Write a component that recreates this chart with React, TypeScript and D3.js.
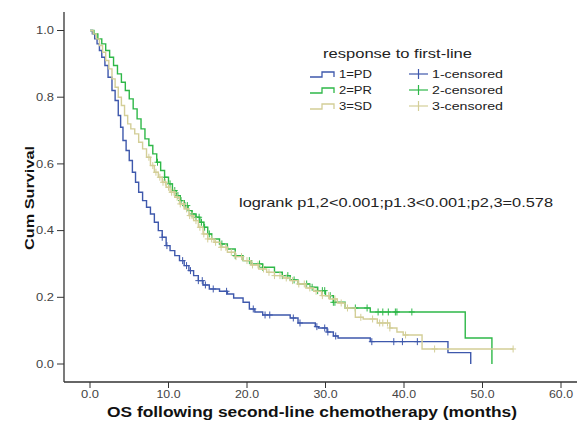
import React from "react";
import * as d3 from "d3";

// ---- data ----
const groups = ["1=PD", "2=PR", "3=SD"];
const censorLabels = ["1-censored", "2-censored", "3-censored"];
const colors = ["#3e58ac", "#2eb848", "#d3ce97"];

const xTicks = [0, 10, 20, 30, 40, 50, 60];
const yTicks = [0, 0.2, 0.4, 0.6, 0.8, 1.0];

// step points [time, survival]
const pdSteps: [number, number][] = [
  [0, 1.0], [0.3, 0.99], [0.6, 0.975], [0.9, 0.96], [1.2, 0.94], [1.5, 0.92], [1.9, 0.895],
  [2.3, 0.86], [2.8, 0.82], [3.2, 0.79], [3.6, 0.745], [3.9, 0.71], [4.2, 0.67], [4.6, 0.64],
  [5.0, 0.61], [5.4, 0.575], [5.8, 0.545], [6.2, 0.515], [6.7, 0.49], [7.2, 0.47], [7.7, 0.45],
  [8.2, 0.425], [8.7, 0.4], [9.2, 0.38], [9.7, 0.355], [10.2, 0.34], [10.8, 0.325], [11.4, 0.31],
  [12.0, 0.295], [12.6, 0.28], [13.2, 0.265], [13.8, 0.25], [14.4, 0.237], [15.2, 0.225],
  [16.5, 0.218], [17.5, 0.21], [18.3, 0.198], [19.5, 0.185], [20.3, 0.165], [21.0, 0.156],
  [22.0, 0.147], [25.5, 0.138], [26.5, 0.123], [28.7, 0.112], [29.1, 0.108], [30.2, 0.096],
  [31.0, 0.084], [31.6, 0.078], [35.7, 0.067], [45.6, 0.034], [48.5, 0.0],
];
const prSteps: [number, number][] = [
  [0, 1.0], [0.5, 0.99], [1.0, 0.975], [1.5, 0.96], [2.0, 0.94], [2.5, 0.92], [3.0, 0.895],
  [3.5, 0.87], [4.0, 0.845], [4.5, 0.82], [5.0, 0.795], [5.5, 0.765], [6.0, 0.735], [6.5, 0.705],
  [7.0, 0.675], [7.5, 0.655], [8.0, 0.63], [8.5, 0.605], [9.0, 0.58], [9.5, 0.56], [10.0, 0.54],
  [10.5, 0.52], [11.0, 0.505], [11.5, 0.49], [12.0, 0.475], [12.5, 0.46], [13.0, 0.45],
  [13.5, 0.44], [14.0, 0.425], [14.5, 0.41], [15.0, 0.39], [15.5, 0.375], [16.5, 0.36],
  [17.5, 0.345], [18.5, 0.325], [19.5, 0.31], [20.5, 0.3], [22.0, 0.29], [23.5, 0.275],
  [24.5, 0.265], [25.5, 0.252], [26.5, 0.24], [28.0, 0.23], [29.0, 0.22], [30.0, 0.205],
  [31.0, 0.185], [32.5, 0.168], [35.7, 0.156], [47.8, 0.078], [51.2, 0.0],
];
const sdSteps: [number, number][] = [
  [0, 1.0], [0.4, 0.99], [0.8, 0.975], [1.2, 0.955], [1.6, 0.935], [2.0, 0.91], [2.4, 0.885],
  [2.8, 0.855], [3.2, 0.83], [3.6, 0.8], [4.0, 0.775], [4.4, 0.745], [4.8, 0.72], [5.2, 0.705],
  [5.7, 0.69], [6.2, 0.665], [6.7, 0.645], [7.2, 0.62], [7.7, 0.595], [8.2, 0.575], [8.7, 0.56],
  [9.2, 0.545], [9.7, 0.53], [10.2, 0.515], [10.8, 0.5], [11.4, 0.48], [12.0, 0.465],
  [12.6, 0.445], [13.2, 0.43], [13.8, 0.41], [14.4, 0.39], [15.0, 0.375], [15.8, 0.365],
  [16.6, 0.35], [17.5, 0.335], [18.5, 0.322], [19.5, 0.31], [20.5, 0.297], [21.5, 0.285],
  [22.5, 0.275], [23.5, 0.265], [24.6, 0.258], [25.5, 0.25], [26.5, 0.24], [27.5, 0.228],
  [28.5, 0.218], [29.5, 0.205], [30.5, 0.195], [31.5, 0.183], [32.5, 0.168], [33.8, 0.14],
  [34.8, 0.135], [36.6, 0.123], [38.2, 0.108], [39.1, 0.096], [39.9, 0.087], [42.3, 0.045],
];
const lastTimes = [48.5, 51.2, 53.9];

const pdCensored = [9.2, 9.8, 11.8, 12.3, 12.8, 13.8, 14.3, 14.7, 15.7, 17.4, 20.8, 22.3, 22.9,
  25.9, 26.75, 28.9, 29.9, 30.3, 31.3, 35.9, 38.7, 39.8, 41.7];
const prCensored = [8.6, 9.5, 10.2, 10.8, 11.2, 11.6, 12.1, 12.4, 13.0, 13.5, 13.9, 14.2, 14.6,
  15.2, 16.8, 18.5, 20.3, 21.6, 22.0, 24.5, 25.2, 26.0, 27.6, 28.3, 29.0, 29.6, 29.9, 30.6,
  31.0, 31.2, 33.8, 35.3, 36.7, 37.3, 38.0, 38.9, 39.1, 41.0];
const sdCensored = [7.5, 8.0, 8.4, 8.9, 9.3, 9.6, 10.0, 10.4, 10.7, 11.1, 11.5, 11.9, 12.3, 12.7,
  13.0, 13.5, 14.0, 14.5, 15.0, 15.5, 16.0, 16.7, 17.3, 18.0, 18.6, 19.3, 20.0, 20.7, 21.4,
  22.1, 22.8, 23.5, 24.2, 25.0, 25.8, 26.6, 27.3, 28.0, 28.8, 29.6, 30.4, 31.2, 32.0, 32.8,
  34.5, 36.0, 36.9, 37.3, 37.9, 38.2, 40.2, 43.9, 53.9];

const allSteps = [pdSteps, prSteps, sdSteps];
const allCensored = [pdCensored, prCensored, sdCensored];

const legendTitle = "response to first-line";
const xTitle = "OS following second-line chemotherapy (months)";
const yTitle = "Cum Survival";
const logrankText = "logrank p1,2<0.001;p1.3<0.001;p2,3=0.578";

// ---- layout ----
const W = 577;
const H = 429;
const axisLeft = 64;
const axisBottom = 382;
const axisTop = 12;

const x = d3.scaleLinear().domain([0, 60]).range([90, 561]);
const y = d3.scaleLinear().domain([0, 1]).range([364, 30.5]);

function survAt(steps: [number, number][], t: number) {
  let s = steps[0][1];
  for (const [tt, ss] of steps) {
    if (tt <= t) s = ss;
    else break;
  }
  return s;
}

const line = d3
  .line<[number, number]>()
  .x((d) => x(d[0]))
  .y((d) => y(d[1]))
  .curve(d3.curveStepAfter);

export default function App() {
  const font = "Arial, 'Liberation Sans', sans-serif";
  return (
    <div style={{ position: "absolute", left: 0, top: 0 }}>
      <svg width={W} height={H} style={{ display: "block", background: "#fff" }} fontFamily={font}>
        {/* axes */}
        <line x1={axisLeft} x2={axisLeft} y1={axisTop} y2={axisBottom} stroke="#333" strokeWidth={1.3} />
        <line x1={axisLeft} x2={W} y1={axisBottom} y2={axisBottom} stroke="#333" strokeWidth={1.3} />
        {yTicks.map((t) => (
          <g key={"y" + t}>
            <line x1={axisLeft - 7} x2={axisLeft} y1={y(t)} y2={y(t)} stroke="#333" strokeWidth={1} />
            <text x={axisLeft - 10} y={y(t)} dy="0.35em" textAnchor="end" fontSize={11} fill="#444"
              textLength={18} lengthAdjust="spacingAndGlyphs">
              {t.toFixed(1)}
            </text>
          </g>
        ))}
        {xTicks.map((t) => (
          <g key={"x" + t}>
            <line x1={x(t)} x2={x(t)} y1={axisBottom} y2={axisBottom + 6} stroke="#333" strokeWidth={1} />
            <text x={x(t)} y={axisBottom + 16} textAnchor="middle" fontSize={11} fill="#444"
              textLength={t === 0 ? 18 : 24} lengthAdjust="spacingAndGlyphs">
              {t.toFixed(1)}
            </text>
          </g>
        ))}
        <text x={312} y={417} textAnchor="middle" fontSize={14.5} fontWeight="bold" fill="#111"
          textLength={410} lengthAdjust="spacingAndGlyphs">
          {xTitle}
        </text>
        <text
          transform={`translate(34,198) rotate(-90)`}
          textAnchor="middle"
          fontSize={13.5}
          fontWeight="bold"
          fill="#111"
          textLength={104}
          lengthAdjust="spacingAndGlyphs"
        >
          {yTitle}
        </text>

        {/* curves */}
        {allSteps.map((steps, i) => {
          const last = steps[steps.length - 1];
          const pts: [number, number][] =
            last[0] < lastTimes[i] ? [...steps, [lastTimes[i], last[1]]] : steps;
          return (
            <g key={"c" + i}>
              <path d={line(pts) || ""} fill="none" stroke={colors[i]} strokeWidth={1.4} />
              {allCensored[i].map((t, j) => {
                const cx = x(t);
                const cy = y(survAt(steps, t));
                return (
                  <g key={j} stroke={colors[i]} strokeWidth={1}>
                    <line x1={cx} x2={cx} y1={cy - 3.5} y2={cy + 3.5} />
                    <line x1={cx - 3} x2={cx + 3} y1={cy} y2={cy} />
                  </g>
                );
              })}
            </g>
          );
        })}

        {/* legend */}
        <text x={323} y={58} fontSize={12.5} fill="#222" textLength={149} lengthAdjust="spacingAndGlyphs">
          {legendTitle}
        </text>
        {groups.map((g, i) => {
          const yy = 78 + i * 16;
          return (
            <g key={"lg" + i}>
              <path
                d={`M310,${yy - 1}H322V${yy - 6}H334V${yy - 1}`}
                fill="none"
                stroke={colors[i]}
                strokeWidth={1.3}
              />
              <text x={339} y={yy} fontSize={11.5} fill="#222" textLength={33} lengthAdjust="spacingAndGlyphs">
                {g}
              </text>
              <g stroke={colors[i]} strokeWidth={1.2}>
                <line x1={409} x2={428} y1={yy - 4} y2={yy - 4} />
                <line x1={418.5} x2={418.5} y1={yy - 9} y2={yy + 1} />
              </g>
              <text x={432} y={yy} fontSize={11.5} fill="#222" textLength={71} lengthAdjust="spacingAndGlyphs">
                {censorLabels[i]}
              </text>
            </g>
          );
        })}

        <text x={239} y={207} fontSize={13.5} fill="#222" textLength={314} lengthAdjust="spacingAndGlyphs">
          {logrankText}
        </text>
      </svg>
    </div>
  );
}
